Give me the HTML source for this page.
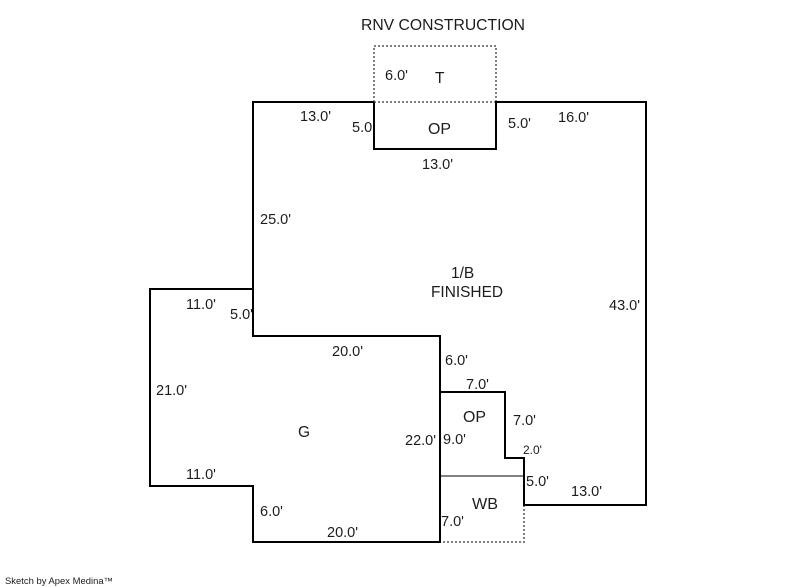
<!DOCTYPE html>
<html>
<head>
<meta charset="utf-8">
<style>
html,body{margin:0;padding:0;background:#fff;width:800px;height:587px;overflow:hidden}
svg{display:block}
text{font-family:"Liberation Sans",Arial,sans-serif;font-size:14.5px;fill:#1c1c1c}
.b{font-size:15.5px}
</style>
</head>
<body>
<svg width="800" height="587" viewBox="0 0 800 587" xmlns="http://www.w3.org/2000/svg">
<g fill="none" stroke-linejoin="miter" shape-rendering="crispEdges">
<path d="M374 102V46H496V102" stroke="#808080" stroke-width="2" stroke-dasharray="2 2"/>
<path d="M374 102H496" stroke="#808080" stroke-width="2" stroke-dasharray="2 2"/>
<path d="M524 505V542H440" stroke="#808080" stroke-width="2" stroke-dasharray="2 2"/>
<path d="M440 476H524" stroke="#808080" stroke-width="2"/>
<path d="M374 102H253V336H440V392H505V458H524V505H646V102H496V149H374V102" stroke="#000" stroke-width="2"/>
<path d="M253 289H150V486H253V542H440V392" stroke="#000" stroke-width="2"/>
</g>
<text x="361" y="30" style="font-size:16px" textLength="164" lengthAdjust="spacingAndGlyphs">RNV CONSTRUCTION</text>
<text x="385" y="80">6.0'</text>
<text class="b" x="435" y="83">T</text>
<text x="300" y="121">13.0'</text>
<text x="352" y="132">5.0</text>
<text class="b" x="428" y="134" textLength="23" lengthAdjust="spacingAndGlyphs">OP</text>
<text x="508" y="128">5.0'</text>
<text x="558" y="122">16.0'</text>
<text x="422" y="169">13.0'</text>
<text x="260" y="224">25.0'</text>
<text class="b" x="451" y="278">1/B</text>
<text class="b" x="431" y="297" textLength="72" lengthAdjust="spacingAndGlyphs">FINISHED</text>
<text x="609" y="310">43.0'</text>
<text x="186" y="309">11.0'</text>
<text x="230" y="319">5.0'</text>
<text x="332" y="356">20.0'</text>
<text x="445" y="365">6.0'</text>
<text x="466" y="389">7.0'</text>
<text x="156" y="395">21.0'</text>
<text class="b" x="463" y="422" textLength="23" lengthAdjust="spacingAndGlyphs">OP</text>
<text x="513" y="425">7.0'</text>
<text class="b" x="298" y="437">G</text>
<text x="405" y="445">22.0'</text>
<text x="443" y="444">9.0'</text>
<text x="523" y="454" style="font-size:12px">2.0'</text>
<text x="186" y="479">11.0'</text>
<text x="526" y="486">5.0'</text>
<text x="571" y="496">13.0'</text>
<text class="b" x="472" y="509" textLength="26" lengthAdjust="spacingAndGlyphs">WB</text>
<text x="260" y="516">6.0'</text>
<text x="441" y="526">7.0'</text>
<text x="327" y="537">20.0'</text>
<text x="5" y="584" style="font-size:9px" textLength="108" lengthAdjust="spacingAndGlyphs">Sketch by Apex Medina™</text>
</svg>
</body>
</html>
